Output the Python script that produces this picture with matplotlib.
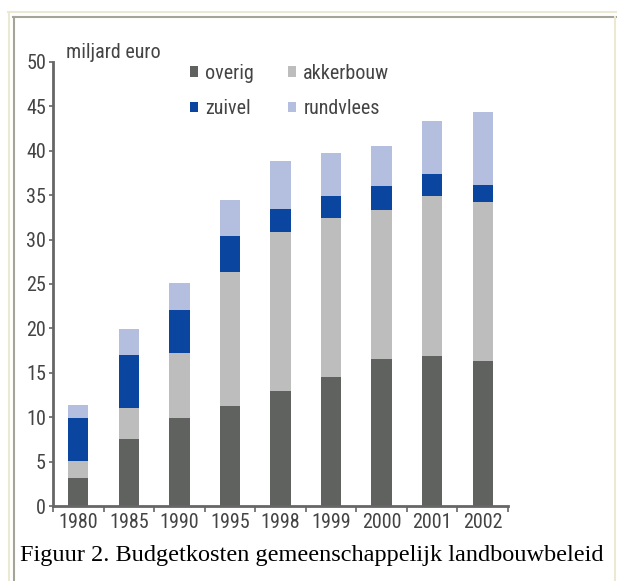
import matplotlib
matplotlib.use("Agg")
import matplotlib.pyplot as plt
from matplotlib.patches import Patch
from matplotlib.lines import Line2D
import numpy as np

years = ["1980", "1985", "1990", "1995", "1998", "1999", "2000", "2001", "2002"]
overig = [3.1, 7.5, 9.9, 11.3, 13.0, 14.5, 16.6, 16.9, 16.3]
akkerbouw = [2.0, 3.5, 7.3, 15.1, 17.9, 17.9, 16.7, 18.0, 17.9]
zuivel = [4.8, 6.0, 4.9, 4.0, 2.6, 2.5, 2.7, 2.5, 2.0]
rundvlees = [1.5, 2.9, 3.0, 4.1, 5.4, 4.8, 4.5, 5.9, 8.2]

series_names = ["overig", "akkerbouw", "zuivel", "rundvlees"]
series_colors = ["#606260", "#bdbdbd", "#0a46a0", "#b4bfe0"]
y_ticks = [0, 5, 10, 15, 20, 25, 30, 35, 40, 45, 50]
unit_label = "miljard euro"
caption = "Figuur 2. Budgetkosten gemeenschappelijk landbouwbeleid"

W, H = 617, 581
fig = plt.figure(figsize=(W / 100, H / 100), dpi=100)
fig.patch.set_facecolor("white")

narrow = ["Roboto Condensed", "DejaVu Sans"]
FS = 14.5
WT = "normal"
TXT = "#444444"

def fx(px):
    return px / W
def fy(py):
    return 1 - py / H

fig.add_artist(Line2D([fx(8), fx(617)], [fy(12), fy(12)], color="#ece8d2", lw=1.5))
fig.add_artist(Line2D([fx(8.5), fx(8.5)], [fy(12), fy(581)], color="#ece8d2", lw=1.5))
fig.add_artist(Line2D([fx(13), fx(616)], [fy(17), fy(17)], color="#a4a498", lw=1.5))
fig.add_artist(Line2D([fx(13.5), fx(13.5)], [fy(17), fy(581)], color="#a4a498", lw=1.5))
fig.add_artist(Line2D([fx(615), fx(615)], [fy(17), fy(581)], color="#ece8d2", lw=1.5))

ax = fig.add_axes([fx(53), fy(506), (508 - 53) / W, (506 - 62) / H])
x = np.arange(len(years))
data = [overig, akkerbouw, zuivel, rundvlees]
bottom = np.zeros(len(years))
for vals, name, col in zip(data, series_names, series_colors):
    ax.bar(x, vals, width=0.4, bottom=bottom, color=col, label=name, linewidth=0)
    bottom = bottom + np.array(vals)

ax.set_xlim(-0.5, len(years) - 0.5)
ax.set_ylim(0, 50)
for s in ["top", "right"]:
    ax.spines[s].set_visible(False)
for s in ["left", "bottom"]:
    ax.spines[s].set_color("#666666")
    ax.spines[s].set_linewidth(2)

ax.set_yticks(y_ticks)
ax.set_yticklabels([str(v) for v in y_ticks], family=narrow, fontsize=FS, color=TXT, weight=WT)
ax.tick_params(axis="y", length=3, width=1.2, color="#666666", pad=2)
ax.set_xticks(x)
ax.set_xticklabels(years, family=narrow, fontsize=FS, color=TXT, weight=WT)
ax.set_xticks(np.arange(-0.5, len(years), 1.0), minor=True)
ax.tick_params(axis="x", which="major", length=0, pad=5)
ax.tick_params(axis="x", which="minor", length=4, width=1.2, color="#666666")

fig.text(fx(66), fy(58), unit_label, family=narrow, fontsize=FS, color=TXT,
         weight=WT, va="baseline")

order = [0, 2, 1, 3]
handles = [Patch(facecolor=series_colors[i], edgecolor="none") for i in order]
labels = [series_names[i] for i in order]
leg = ax.legend(handles, labels, ncol=2, frameon=False, loc="upper left",
                bbox_to_anchor=(fx(180), fy(54)), bbox_transform=fig.transFigure,
                handlelength=0.4, handleheight=0.45, handletextpad=0.35,
                columnspacing=1.7, labelspacing=0.8, borderpad=0,
                prop={"family": narrow, "size": FS, "weight": WT})
for t in leg.get_texts():
    t.set_color(TXT)

fig.text(fx(20), fy(555), caption, family=["Liberation Serif", "DejaVu Serif"],
         fontsize=17.5, color="black", va="center")

fig.savefig("out.png", dpi=100, facecolor="white")
